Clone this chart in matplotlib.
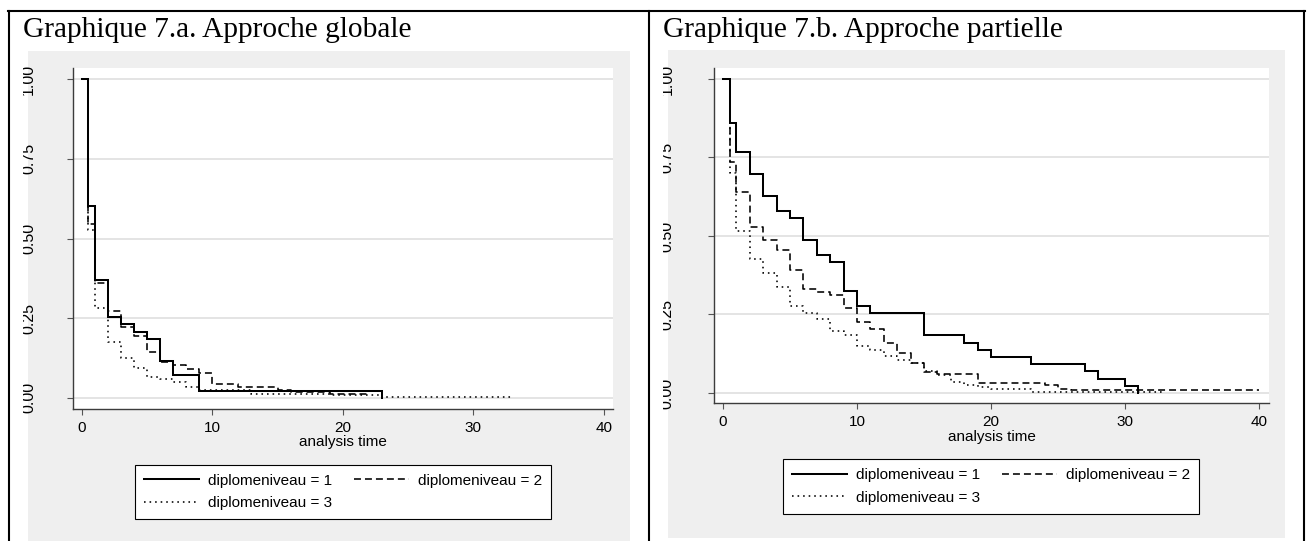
import matplotlib.pyplot as plt
from matplotlib.lines import Line2D
from matplotlib.patches import Rectangle

plt.rcParams.update({
    "font.family": "Liberation Sans",
    "font.size": 11,
    "lines.scale_dashes": False,
})

# ---------- data (Kaplan-Meier steps) ----------
titles = ["Graphique 7.a. Approche globale", "Graphique 7.b. Approche partielle"]
group_labels = ["diplomeniveau = 1", "diplomeniveau = 2", "diplomeniveau = 3"]
xticks = [0, 10, 20, 30, 40]
yticks = [0, 0.25, 0.5, 0.75, 1.0]
ytick_labels = ["0.00", "0.25", "0.50", "0.75", "1.00"]

# panel a : approche globale
t_a1 = [0, 0.5, 1, 2, 3, 4, 5, 6, 7, 9, 23]
s_a1 = [1.0, 0.602, 0.370, 0.253, 0.231, 0.207, 0.185, 0.116, 0.071, 0.022, 0.0]
t_a2 = [0, 0.5, 1, 2, 3, 4, 5, 6, 7, 8, 9, 10, 12, 15, 16, 19, 22]
s_a2 = [1.0, 0.547, 0.359, 0.273, 0.223, 0.195, 0.144, 0.113, 0.103, 0.092,
        0.077, 0.045, 0.035, 0.026, 0.018, 0.012, 0.012]
t_a3 = [0, 0.5, 1, 2, 3, 4, 5, 6, 7, 8, 9, 13, 19, 23, 33]
s_a3 = [1.0, 0.526, 0.281, 0.174, 0.124, 0.094, 0.066, 0.058, 0.050, 0.035,
        0.025, 0.013, 0.008, 0.004, 0.004]

# panel b : approche partielle
t_b1 = [0, 0.5, 1, 2, 3, 4, 5, 6, 7, 8, 9, 10, 11, 15, 18, 19, 20, 23, 27, 28, 30, 31]
s_b1 = [1.0, 0.861, 0.769, 0.697, 0.628, 0.580, 0.556, 0.487, 0.439, 0.417, 0.326,
        0.278, 0.254, 0.184, 0.160, 0.137, 0.115, 0.091, 0.069, 0.046, 0.022, 0.0]
t_b2 = [0, 0.5, 1, 2, 3, 4, 5, 6, 7, 8, 9, 10, 11, 12, 13, 14, 15, 16, 19, 24, 25, 26, 40]
s_b2 = [1.0, 0.737, 0.641, 0.530, 0.486, 0.455, 0.392, 0.331, 0.323, 0.312, 0.272,
        0.227, 0.205, 0.160, 0.126, 0.095, 0.066, 0.060, 0.033, 0.025, 0.014, 0.008, 0.008]
t_b3 = [0, 0.5, 1, 2, 3, 4, 5, 6, 7, 8, 9, 10, 11, 12, 13, 14, 15, 16, 17, 18, 19, 20, 23, 33]
s_b3 = [1.0, 0.700, 0.517, 0.428, 0.381, 0.337, 0.278, 0.254, 0.235, 0.198, 0.185,
        0.150, 0.137, 0.119, 0.105, 0.095, 0.071, 0.057, 0.036, 0.025, 0.018, 0.012,
        0.004, 0.004]

W, H = 1309, 541


def box(x0, y0, x1, y1):
    # pixel box with top-left origin -> figure fraction
    return [x0 / W, 1 - y1 / H, (x1 - x0) / W, (y1 - y0) / H]


styles = [
    dict(ls="-", lw=1.45),
    dict(ls=(0, (5.0, 2.9)), lw=1.15),
    dict(ls=(0, (1.15, 2.85)), lw=1.15),
]

fig = plt.figure(figsize=(W / 100, H / 100), dpi=100, facecolor="white")

panels = [
    dict(grey=(28, 51, 630, 541), ax=(72.7, 68, 613, 409), xlim=(-0.7, 40.7),
         ylim=(-0.035, 1.035), title_x=23, leg=(343, 492), clip=23, xpad=4.0,
         ypad=22, series=[(t_a1, s_a1), (t_a2, s_a2), (t_a3, s_a3)]),
    dict(grey=(668, 50, 1285, 538), ax=(714, 68, 1269, 403), xlim=(-0.67, 40.75),
         ylim=(-0.032, 1.035), title_x=663, leg=(991, 486.5), clip=663, xpad=4.7,
         ypad=24.1, series=[(t_b1, s_b1), (t_b2, s_b2), (t_b3, s_b3)]),
]

for i, p in enumerate(panels):
    gx0, gy0, gx1, gy1 = p["grey"]
    fig.add_artist(Rectangle((gx0 / W, 1 - gy1 / H), (gx1 - gx0) / W, (gy1 - gy0) / H,
                             transform=fig.transFigure, facecolor="#efefef",
                             edgecolor="none", zorder=0))
    fig.text(p["title_x"] / W, 1 - 37 / H, titles[i], family="Liberation Serif",
             size=21.2, va="baseline", ha="left")

    ax = fig.add_axes(box(*p["ax"]))
    ax.set_facecolor("white")
    handles = []
    for (t, s), st, lab in zip(p["series"], styles, group_labels):
        h, = ax.step(t, s, where="post", color="black", label=lab,
                     solid_joinstyle="miter", **st)
        handles.append(h)

    ax.set_xlim(*p["xlim"])
    ax.set_ylim(*p["ylim"])
    ax.set_xticks(xticks)
    ax.set_yticks(yticks)
    ax.set_yticklabels(ytick_labels, rotation=90, va="center")
    for side in ["top", "right"]:
        ax.spines[side].set_visible(False)
    for side in ["left", "bottom"]:
        ax.spines[side].set_color("#3c3c3c")
        ax.spines[side].set_linewidth(1.0)
    ax.yaxis.grid(True, color="#e2e2e2", lw=1.3)
    ax.set_axisbelow(True)
    ax.tick_params(direction="out", length=4.3, width=0.8, color="#555555", labelsize=11)
    ax.tick_params(axis="x", pad=p["xpad"])
    ax.tick_params(axis="y", pad=p["ypad"], labelsize=11.5)
    ax.set_xlabel("analysis time", fontsize=11, labelpad=0)

    # y labels are cut on their left side in the original
    clip = Rectangle((p["clip"] / W, 0), 60 / W, 1, transform=fig.transFigure)
    for lab in ax.get_yticklabels():
        lab.set_clip_path(clip)

    cx, cy = p["leg"]
    leg = ax.legend([handles[0], handles[2], handles[1]],
                    [group_labels[0], group_labels[2], group_labels[1]],
                    ncol=2, loc="center", bbox_to_anchor=(cx / W, 1 - cy / H),
                    bbox_transform=fig.transFigure, fontsize=11, handlelength=3.6,
                    handletextpad=0.6, columnspacing=1.4, labelspacing=0.55,
                    borderpad=0.6, fancybox=False, framealpha=1, edgecolor="black")
    leg.get_frame().set_linewidth(0.8)

# table borders round the two panels
for xs, ys in [((8, 1305), (11, 11)), ((9, 9), (11, 541)),
               ((649, 649), (11, 541)), ((1304, 1304), (11, 541))]:
    fig.add_artist(Line2D([x / W for x in xs], [1 - y / H for y in ys],
                          transform=fig.transFigure, color="black", lw=1.5))

fig.savefig("out.png", dpi=100)
